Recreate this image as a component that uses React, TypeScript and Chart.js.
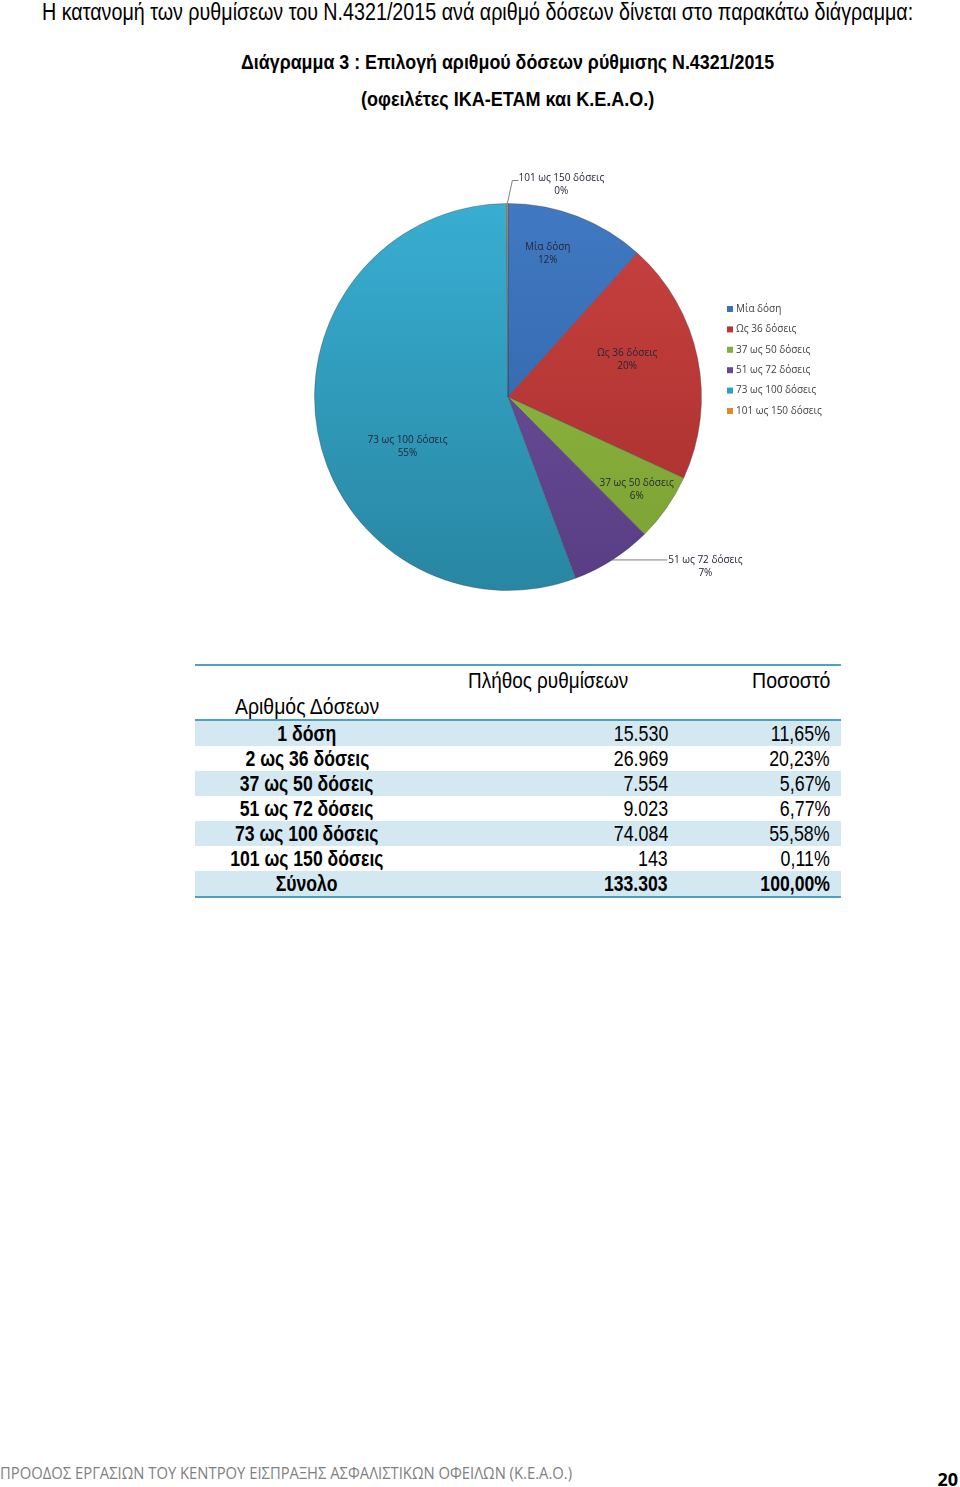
import React, { useEffect, useLayoutEffect, useRef } from "react";
import { Chart, registerables } from "chart.js";

Chart.register(...registerables);

// ---------- data ----------
const sliceLabels = ["Μία δόση", "Ως 36 δόσεις", "37 ως 50 δόσεις", "51 ως 72 δόσεις", "73 ως 100 δόσεις", "101 ως 150 δόσεις"];
const sliceValues = [15530, 26969, 7554, 9023, 74084, 143];
const slicePercentText = ["12%", "20%", "6%", "7%", "55%", "0%"];

const tableCategories = ["1 δόση", "2 ως 36 δόσεις", "37 ως 50 δόσεις", "51 ως 72 δόσεις", "73 ως 100 δόσεις", "101 ως 150 δόσεις"];
const tableCounts = [15530, 26969, 7554, 9023, 74084, 143];
const tablePercents = [11.65, 20.23, 5.67, 6.77, 55.58, 0.11];
const totalLabel = "Σύνολο";
const totalCount = 133303;
const totalPercent = 100.0;

// ---------- styles ----------
const sliceColors = [
  ["#4079C2", "#2E5FA2"],
  ["#C94240", "#A52E2C"],
  ["#98C046", "#79A032"],
  ["#7254A0", "#583D84"],
  ["#38AED2", "#2886A2"],
  ["#F0993A", "#D07A22"],
];
const legendSwatch = ["#3A72BA", "#B83634", "#86AE3C", "#654A93", "#2EA0C4", "#E08A2A"];

const labelPlacement: any[] = [
  { kind: "in", r: 0.77, shift: -5.5 },
  { kind: "in", r: 0.645, shift: -5.6 },
  { kind: "in", r: 0.82, shift: 0.8 },
  { kind: "out", elbow: [0, 0], run: 55, textDx: 36, lineDy: 0 },
  { kind: "in", r: 0.58, shift: -16 },
  { kind: "out", elbow: [5, -23], run: 6, textDx: 41, lineDy: -2 },
];

const CANVAS_TOP = 140;
const LABEL_FONT = "10px 'Open Sans', sans-serif";
const LEGEND_FONT = "10px 'Open Sans', sans-serif";
const NARROW = "'Liberation Sans', Arial, sans-serif";

function fmtInt(n: number) {
  return String(n).replace(/\B(?=(\d{3})+(?!\d))/g, ".");
}
function fmtPct(p: number) {
  return p.toFixed(2).replace(".", ",") + "%";
}

const labelsPlugin = {
  id: "sliceLabels",
  afterDatasetsDraw(chart: any) {
    const ctx = chart.ctx;
    const meta = chart.getDatasetMeta(0);
    ctx.save();
    ctx.font = LABEL_FONT;
    ctx.fillStyle = "#262636";
    ctx.textBaseline = "middle";
    meta.data.forEach((arc: any, i: number) => {
      const p = arc.getProps(["x", "y", "startAngle", "endAngle", "outerRadius"], true);
      const mid = (p.startAngle + p.endAngle) / 2;
      const pl = labelPlacement[i];
      const name = chart.data.labels[i];
      const pct = slicePercentText[i];
      if (pl.kind === "in") {
        const a = mid + (pl.shift * Math.PI) / 180;
        const r = p.outerRadius * pl.r;
        const cx = p.x + Math.cos(a) * r;
        const cy = p.y + Math.sin(a) * r;
        ctx.textAlign = "center";
        ctx.fillText(name, cx, cy - 6.5);
        ctx.fillText(pct, cx, cy + 6.5);
      } else {
        const ex = p.x + Math.cos(mid) * p.outerRadius;
        const ey = p.y + Math.sin(mid) * p.outerRadius;
        const bx = ex + pl.elbow[0];
        const by = ey + pl.elbow[1];
        const tx = bx + pl.run;
        ctx.strokeStyle = "#7f7f7f";
        ctx.lineWidth = 1;
        ctx.beginPath();
        ctx.moveTo(ex, ey);
        ctx.lineTo(bx, by);
        ctx.lineTo(tx, by);
        ctx.stroke();
        const cx = tx + 2 + pl.textDx;
        ctx.textAlign = "center";
        ctx.fillText(name, cx, by + pl.lineDy);
        ctx.fillText(pct, cx, by + pl.lineDy + 13);
      }
    });
    ctx.font = LEGEND_FONT;
    ctx.textAlign = "left";
    chart.data.labels.forEach((lab: string, i: number) => {
      const y = 309 - CANVAS_TOP + i * 20.4;
      ctx.fillStyle = legendSwatch[i];
      ctx.fillRect(727, y - 3, 6, 6);
      ctx.fillStyle = "#404040";
      ctx.fillText(lab, 736, y);
    });
    ctx.restore();
  },
};

function PieChart() {
  const ref = useRef<HTMLCanvasElement | null>(null);
  useEffect(() => {
    const canvas = ref.current!;
    const chart = new Chart(canvas, {
      type: "pie",
      data: {
        labels: sliceLabels,
        datasets: [
          {
            data: sliceValues,
            backgroundColor: (c: any) => {
              const ch = c.chart;
              const area = ch.chartArea;
              const i = c.dataIndex;
              if (!area || i === undefined) return sliceColors[0][0];
              const g = ch.ctx.createLinearGradient(0, area.top, 0, area.bottom);
              g.addColorStop(0, sliceColors[i][0]);
              g.addColorStop(1, sliceColors[i][1]);
              return g;
            },
            borderColor: "rgba(60,60,80,0.35)",
            borderWidth: 1,
          },
        ],
      },
      options: {
        responsive: false,
        animation: false,
        layout: { padding: { top: 63, bottom: 19, left: 314, right: 258 } },
        plugins: {
          legend: { display: false },
          tooltip: { enabled: false },
        },
      },
      plugins: [labelsPlugin],
    });
    return () => chart.destroy();
  }, []);
  return (
    <canvas
      ref={ref}
      width={960}
      height={470}
      style={{ position: "absolute", left: 0, top: CANVAS_TOP, width: 960, height: 470 }}
    />
  );
}

// text placed at (x, y-center), horizontally scaled either to a target width or by a fixed factor
function T(props: {
  x: number;
  y: number;
  align: "left" | "center" | "right";
  children: any;
  style?: any;
  fit?: number;
  sx?: number;
}) {
  const { x, y, align, children, style, fit, sx } = props;
  const inner = useRef<HTMLSpanElement | null>(null);
  useLayoutEffect(() => {
    const el = inner.current;
    if (!el) return;
    let s = sx ?? 1;
    if (fit) {
      const w = el.offsetWidth;
      if (w > 0) s = fit / w;
    }
    el.style.transform = `scaleX(${s})`;
  }, [fit, sx, children]);
  const base: any = {
    position: "absolute",
    top: y - 15,
    height: 30,
    lineHeight: "30px",
    whiteSpace: "nowrap",
  };
  if (align === "left") base.left = x;
  else if (align === "right") {
    base.left = x - 1000;
    base.width = 1000;
    base.textAlign = "right";
  } else {
    base.left = x - 500;
    base.width = 1000;
    base.textAlign = "center";
  }
  return (
    <div style={{ ...base, ...style }}>
      <span ref={inner} style={{ display: "inline-block", transformOrigin: align }}>
        {children}
      </span>
    </div>
  );
}

export default function App() {
  const rowTop = 721;
  const rowH = 25;
  const teal = "#4BA3BF";
  const shade = "#D3E8F1";
  const allRows = [
    ...tableCategories.map((c, i) => ({ c, n: fmtInt(tableCounts[i]), p: fmtPct(tablePercents[i]), bold: false })),
    { c: totalLabel, n: fmtInt(totalCount), p: fmtPct(totalPercent), bold: true },
  ];
  const tf = { fontFamily: NARROW, fontSize: 22, color: "#000" };
  const normalS = 0.81;
  const boldS = 0.8;
  return (
    <div
      style={{
        position: "absolute",
        left: 0,
        top: 0,
        width: 960,
        height: 1487,
        background: "#fff",
        overflow: "hidden",
      }}
    >
      <T x={42} y={12} align="left" fit={871} style={{ fontFamily: NARROW, fontSize: 23, color: "#000" }}>
        Η κατανομή των ρυθμίσεων του Ν.4321/2015 ανά αριθμό δόσεων δίνεται στο παρακάτω διάγραμμα:
      </T>
      <T x={241} y={62} align="left" fit={533} style={{ fontFamily: NARROW, fontSize: 21, fontWeight: "bold", color: "#000" }}>
        Διάγραμμα 3 : Επιλογή αριθμού δόσεων ρύθμισης Ν.4321/2015
      </T>
      <T x={361} y={99} align="left" fit={293} style={{ fontFamily: NARROW, fontSize: 21, fontWeight: "bold", color: "#000" }}>
        (οφειλέτες ΙΚΑ-ΕΤΑΜ και Κ.Ε.Α.Ο.)
      </T>

      <PieChart />

      {/* table */}
      <div style={{ position: "absolute", left: 195, top: 664, width: 646, height: 2, background: teal }} />
      {allRows.map((r, i) =>
        i % 2 === 0 ? (
          <div
            key={"s" + i}
            style={{ position: "absolute", left: 195, top: rowTop + i * rowH, width: 646, height: rowH, background: shade }}
          />
        ) : null
      )}
      <div style={{ position: "absolute", left: 195, top: 719, width: 646, height: 2, background: teal }} />
      <div style={{ position: "absolute", left: 195, top: 896, width: 646, height: 2, background: teal }} />
      <T x={468} y={681} align="left" fit={160} style={tf}>
        Πλήθος ρυθμίσεων
      </T>
      <T x={830} y={681} align="right" fit={78} style={tf}>
        Ποσοστό
      </T>
      <T x={235} y={707} align="left" fit={144} style={tf}>
        Αριθμός Δόσεων
      </T>
      {allRows.map((r, i) => (
        <React.Fragment key={"r" + i}>
          <T x={307} y={734 + i * rowH} align="center" sx={boldS} style={{ ...tf, fontWeight: "bold" }}>
            {r.c}
          </T>
          <T x={668} y={734 + i * rowH} align="right" sx={r.bold ? boldS : normalS} style={{ ...tf, fontWeight: r.bold ? "bold" : "normal" }}>
            {r.n}
          </T>
          <T x={830} y={734 + i * rowH} align="right" sx={r.bold ? boldS : normalS} style={{ ...tf, fontWeight: r.bold ? "bold" : "normal" }}>
            {r.p}
          </T>
        </React.Fragment>
      ))}

      {/* footer */}
      <T x={0} y={1473} align="left" fit={572} style={{ fontFamily: "'Open Sans', sans-serif", fontSize: 15.5, color: "#7f7f7f" }}>
        ΠΡΟΟΔΟΣ ΕΡΓΑΣΙΩΝ ΤΟΥ ΚΕΝΤΡΟΥ ΕΙΣΠΡΑΞΗΣ ΑΣΦΑΛΙΣΤΙΚΩΝ ΟΦΕΙΛΩΝ (Κ.Ε.Α.Ο.)
      </T>
      <T x={958} y={1479} align="right" style={{ fontFamily: "'Open Sans', sans-serif", fontSize: 18, fontWeight: "bold", color: "#000" }}>
        20
      </T>
    </div>
  );
}
